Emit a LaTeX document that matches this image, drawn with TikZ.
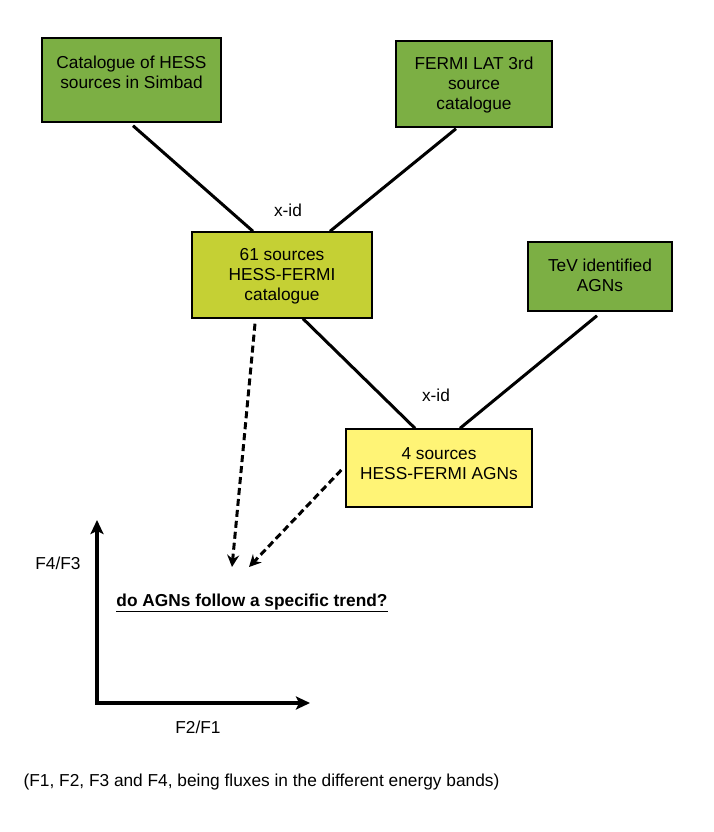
\documentclass[tikz,border=0pt]{standalone}
\usepackage{fontspec}
\setmainfont{Liberation Sans}
\usetikzlibrary{arrows.meta,calc}
\definecolor{boxgreen}{RGB}{124,175,68}
\definecolor{boxlime}{RGB}{197,208,52}
\definecolor{boxyellow}{RGB}{255,244,118}
\begin{document}
\begin{tikzpicture}[x=1pt,y=-1pt,
  every node/.style={font=\fontsize{17.3}{20}\selectfont},
  box/.style={draw=black,line width=1.4pt,inner sep=0pt},
  boxtext/.style={align=center,inner sep=0pt},
  link/.style={line width=3pt},
  dasharrow/.style={line width=3pt,dash pattern=on 7pt off 4pt,-{Stealth[length=12pt,width=12pt,inset=4pt]}},
  axis/.style={line width=3.2pt,{Stealth[length=14pt,width=13pt,inset=3pt]}-{Stealth[length=14pt,width=13pt,inset=3pt]}}]
\useasboundingbox (0,0) rectangle (714,832);
% boxes
\node[box,fill=boxgreen,minimum width=179pt,minimum height=84pt] (hess) at (131.5,80) {};
\node[boxtext] (hesst) at (131.5,72.5) {Catalogue of HESS\\sources in Simbad};
\node[box,fill=boxgreen,minimum width=156pt,minimum height=86pt] (fermi) at (474,84) {};
\node[boxtext] (fermit) at (474,85.5) {FERMI LAT 3rd\\source\\catalogue};
\node[box,fill=boxlime,minimum width=180pt,minimum height=86pt] (c61) at (282,275) {};
\node[boxtext] (c61t) at (282,276) {61 sources\\HESS-FERMI\\catalogue};
\node[box,fill=boxgreen,minimum width=144pt,minimum height=69pt] (tev) at (600,276.5) {};
\node[boxtext] (tevt) at (600,275.5) {TeV identified\\AGNs};
\node[box,fill=boxyellow,minimum width=186pt,minimum height=78pt] (b4) at (439,468) {};
\node[boxtext] (b4t) at (439,463.5) {4 sources\\HESS-FERMI AGNs};
% labels
\node (xid1) at (288,210) {x-id};
\node (xid2) at (436,395) {x-id};
% connectors
\draw[link] ([xshift=1.5pt,yshift=-3pt]hess.south) -- ([xshift=-29pt]c61.north);
\draw[link] ([xshift=-18pt,yshift=-1pt]fermi.south) -- ([xshift=48pt]c61.north);
\draw[link] ([xshift=21pt]c61.south) -- ([xshift=-24pt]b4.north);
\draw[link] ([xshift=-3pt,yshift=-4pt]tev.south) -- ([xshift=21pt]b4.north);
% dashed arrows
\coordinate (tip1) at (232,567);
\coordinate (tip2) at (249,567);
\draw[dasharrow] ([xshift=-27pt,yshift=-5pt]c61.south) -- (tip1);
\draw[dasharrow] ([xshift=-4pt,yshift=-2pt]b4.west) -- (tip2);
% axes
\coordinate (ytip) at (97,520);
\coordinate (orig) at (97,703);
\coordinate (xtip) at (310,703);
\draw[axis,line join=miter] (ytip) -- (orig) -- (xtip);
\node (ylab) at (58,563) {F4/F3};
\node (xlab) at (198,727) {F2/F1};
\node (question) at (252,603) {\bfseries\underline{do AGNs follow a specific trend?}};
\node (foot) at (261.5,782) {(F1, F2, F3 and F4, being fluxes in the different energy bands)};
\end{tikzpicture}
\end{document}
